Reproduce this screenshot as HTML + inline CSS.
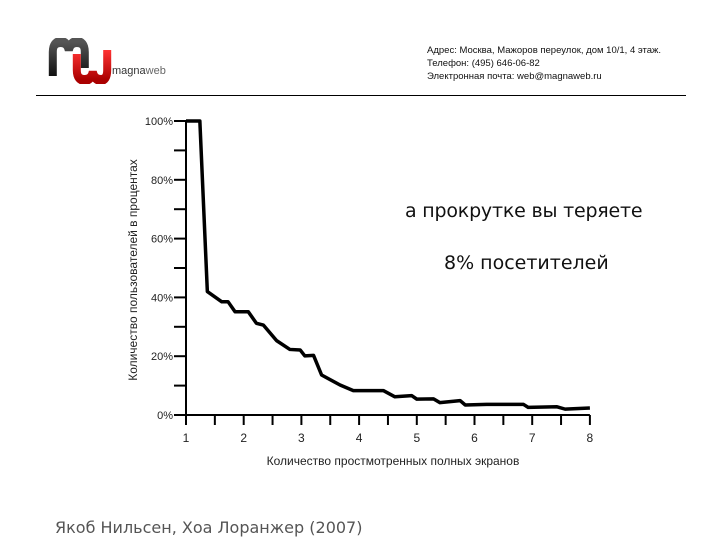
<!DOCTYPE html>
<html><head><meta charset="utf-8"><style>
body{margin:0;width:720px;height:540px;background:#fff;overflow:hidden;position:relative;font-family:"Liberation Sans","DejaVu Sans",sans-serif}
.abs{position:absolute}
</style></head><body>
<div class="abs" style="left:48px;top:38px;width:160px;height:46px">
<svg width="160" height="46">
<defs><linearGradient id="g1" x1="0" y1="0" x2="0" y2="1"><stop offset="0" stop-color="#555"/><stop offset="1" stop-color="#111"/></linearGradient>
<linearGradient id="g2" x1="0" y1="0" x2="0" y2="1"><stop offset="0" stop-color="#f33"/><stop offset="1" stop-color="#a00"/></linearGradient></defs>
<g transform="scale(0.8,1)">
<path d="M6,38 V14 Q6,4 16,4 Q24,4 26,12 Q28,4 36,4 Q46,4 46,14 V30" stroke="url(#g1)" stroke-width="10" fill="none"/>
<path d="M36,16 V32 Q36,42 46,42 Q54,42 56,34 Q58,42 66,42 Q74,42 74,32 V12" stroke="url(#g2)" stroke-width="10" fill="none"/>
</g>
<text x="64" y="36" font-size="11" fill="#333" font-family="Liberation Sans, sans-serif">magna<tspan fill="#666">web</tspan></text>
</svg></div>
<div class="abs" style="left:427px;top:44px;font-size:9.5px;line-height:13px;color:#111">
Адрес: Москва, Мажоров переулок, дом 10/1, 4 этаж.<br>Телефон: (495) 646-06-82<br>Электронная почта: web@magnaweb.ru</div>
<div class="abs" style="left:36px;top:95px;width:650px;height:1px;background:#000"></div>
<svg class="abs" style="left:0;top:0" width="720" height="540" id="chart"></svg>
<div class="abs" style="left:405px;top:200px;font-size:19px;color:#111;font-family:'DejaVu Sans',sans-serif;letter-spacing:-0.2px">а прокрутке вы теряете</div>
<div class="abs" style="left:444px;top:252px;font-size:19px;color:#111;font-family:'DejaVu Sans',sans-serif">8% посетителей</div>
<div class="abs" style="left:55px;top:518px;font-size:16px;color:#555;font-family:'DejaVu Sans',sans-serif">Якоб Нильсен, Хоа Лоранжер (2007)</div>
<script>
const xVals=[1,1.24,1.37,1.62,1.73,1.85,2.08,2.22,2.34,2.57,2.80,2.98,3.06,3.21,3.35,3.67,3.90,4.42,4.62,4.91,5.0,5.29,5.40,5.75,5.84,6.21,6.85,6.93,7.43,7.57,8];
const yVals=[100,100,42,38.5,38.5,35.1,35.1,31.2,30.6,25.3,22.3,22.1,20.1,20.3,13.6,10.2,8.3,8.3,6.2,6.6,5.4,5.5,4.2,4.9,3.4,3.6,3.6,2.6,2.8,2.0,2.4];
const xTicks=[1,2,3,4,5,6,7,8];
const yTicks=[0,20,40,60,80,100];
const svg=document.getElementById('chart');
const NS='http://www.w3.org/2000/svg';
const X=v=>186+(v-1)*57.7;
const Y=v=>415-v*2.94;
function mk(t,a){const e=document.createElementNS(NS,t);for(const k in a)e.setAttribute(k,a[k]);svg.appendChild(e);return e;}
let e=mk('line',{x1:X(1),y1:Y(100),x2:X(1),y2:Y(0)+1,stroke:'#000','stroke-width':2});


e=mk('line',{x1:X(1),y1:Y(0),x2:X(8),y2:Y(0),stroke:'#000','stroke-width':2});


for(let v=0;v<=100;v+=10){e=mk('line',{x1:X(1)-12,y1:Y(v),x2:X(1),y2:Y(v),stroke:'#000','stroke-width':2});

}
for(let v=1;v<=8;v+=0.5){e=mk('line',{x1:X(v),y1:Y(0),x2:X(v),y2:Y(0)+10,stroke:'#000','stroke-width':2});

}
yTicks.forEach(v=>{e=mk('text',{x:X(1)-13,y:Y(v)+4,'text-anchor':'end','font-size':11,fill:'#222'});e.textContent=v+'%';

});
xTicks.forEach(v=>{e=mk('text',{x:X(v),y:Y(0)+27,'text-anchor':'middle','font-size':12,fill:'#222'});e.textContent=v;

});
e=mk('text',{x:393,y:465,'text-anchor':'middle','font-size':12,fill:'#222'});e.textContent='Количество простмотренных полных экранов';


e=mk('text',{x:0,y:0,'text-anchor':'middle','font-size':12,fill:'#222',transform:'translate(137,270) rotate(-90)'});e.textContent='Количество пользователей в процентах';


e=mk('polyline',{points:xVals.map((x,i)=>X(x)+','+Y(yVals[i])).join(' '),fill:'none',stroke:'#000','stroke-width':3.5,'stroke-linejoin':'round'});


</script>
</body></html>
